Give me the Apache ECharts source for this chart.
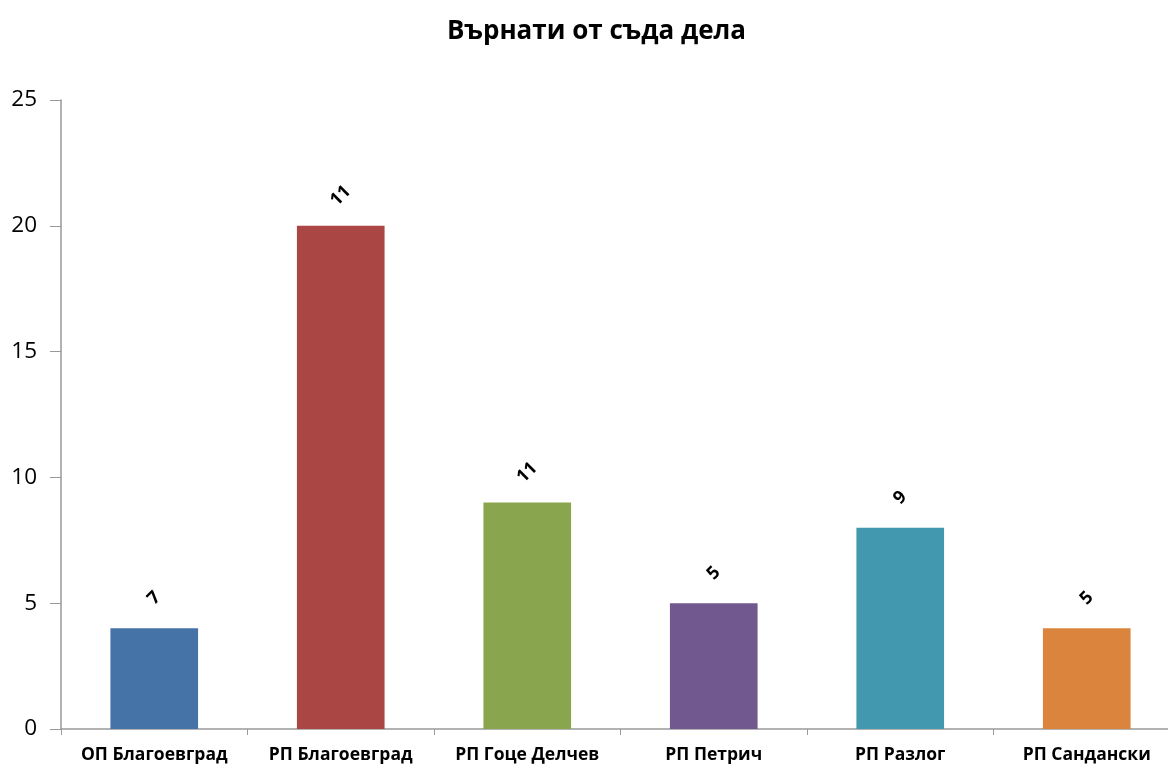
<!DOCTYPE html>
<html>
<head>
<meta charset="utf-8">
<script src="https://cdn.jsdelivr.net/npm/echarts@6/dist/echarts.min.js"></script>
<style>
  html, body { margin: 0; padding: 0; background: #fff; }
  #chart { width: 1168px; height: 765px; }
</style>
</head>
<body>
<div id="chart"></div>
<script>
// данни
const categories = ['ОП Благоевград', 'РП Благоевград', 'РП Гоце Делчев', 'РП Петрич', 'РП Разлог', 'РП Сандански']
const barValues = [4, 20, 9, 5, 8, 4]
const labelValues = [7, 11, 11, 5, 9, 5]
const colors = ['#4572A7', '#AA4643', '#89A54E', '#71588F', '#4198AF', '#DB843D']
const yTicks = { min: 0, max: 25, interval: 5 }

const chart = echarts.init(document.getElementById('chart'))

const option = {
  animation: false,
  textStyle: { fontFamily: 'Open Sans, sans-serif' },
  title: {
    text: 'Върнати от съда дела',
    left: 442,
    top: 14,
    textStyle: { fontSize: 26, fontWeight: 'bold', color: '#000', fontFamily: 'Open Sans, sans-serif' }
  },
  grid: { left: 61, width: 1119, top: 100, bottom: 36, outerBoundsMode: 'none', containLabel: false },
  xAxis: {
    type: 'category',
    data: categories,
    axisLine: { lineStyle: { color: '#999', width: 1.5 } },
    axisTick: { show: true, length: 6, lineStyle: { color: '#999' } },
    axisLabel: { color: '#000', fontSize: 17.5, fontWeight: 'bold', margin: 17, interval: 0 }
  },
  yAxis: {
    type: 'value',
    min: yTicks.min,
    max: yTicks.max,
    interval: yTicks.interval,
    splitLine: { show: false },
    axisLine: { show: true, lineStyle: { color: '#999', width: 1.5 } },
    axisTick: { show: true, length: 11, lineStyle: { color: '#999' } },
    axisLabel: { color: '#000', fontSize: 22.5, margin: 24 }
  },
  series: [{
    type: 'bar',
    barWidth: '47%',
    data: barValues.map((v, i) => ({ value: v, itemStyle: { color: colors[i] } })),
    label: {
      show: true,
      position: 'top',
      distance: 30,
      rotate: 45,
      align: 'center',
      verticalAlign: 'middle',
      fontSize: 18,
      fontWeight: 'bold',
      color: '#000',
      formatter: p => String(labelValues[p.dataIndex])
    }
  }]
}

chart.setOption(option)
</script>
</body>
</html>
